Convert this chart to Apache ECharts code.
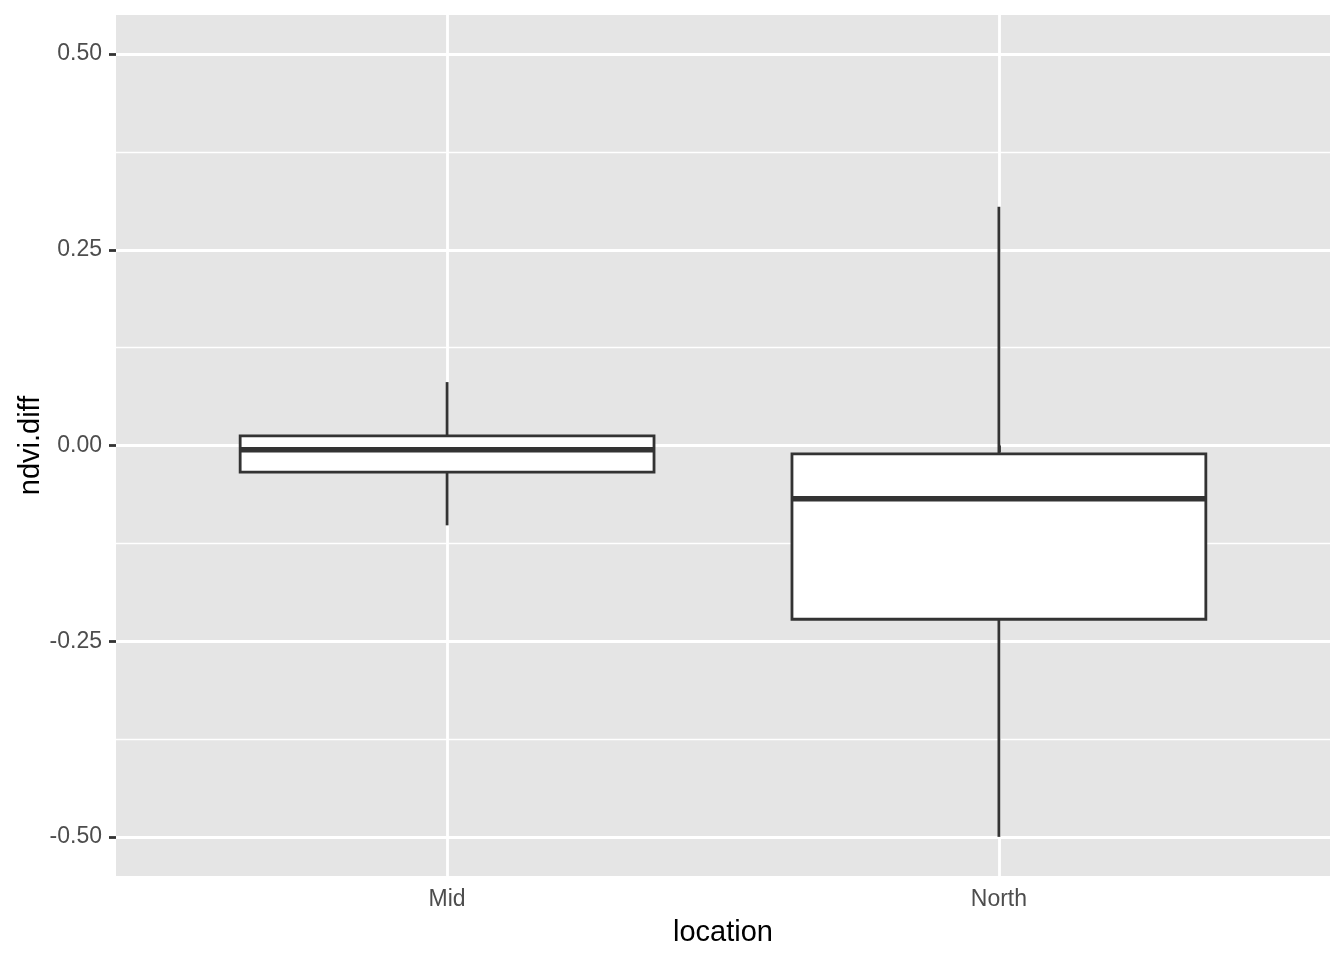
<!DOCTYPE html>
<html>
<head>
<meta charset="utf-8">
<script src="https://cdn.jsdelivr.net/npm/echarts@6/dist/echarts.min.js"></script>
<style>html,body{margin:0;padding:0;background:#fff;}#c{width:1344px;height:960px;}</style>
</head>
<body>
<div id="c"></div>
<script>
// ---- data ----
const categories = ['Mid', 'North'];
// [min (lower whisker), Q1, median, Q3, max (upper whisker)]
const boxMid   = [-0.102, -0.034, -0.0055, 0.0124, 0.081];
const boxNorth = [-0.500, -0.222, -0.068, -0.0106, 0.305];
const yTicks = [-0.5, -0.25, 0, 0.25, 0.5];
const yMinorTicks = [-0.375, -0.125, 0.125, 0.375];
const xPositions = [1, 2];

const boxes = [boxMid, boxNorth];
const seriesData = boxes.map((b, i) => [xPositions[i]].concat(b));

const chart = echarts.init(document.getElementById('c'), null, {renderer: 'canvas'});
const FONT = '"Liberation Sans", Arial, Helvetica, sans-serif';
const LW = 2.8;
const DARK = '#333333';

const option = {
  backgroundColor: '#ffffff',
  animation: false,
  grid: {
    left: 116, right: 14, top: 15, bottom: 84,
    show: true, backgroundColor: '#E5E5E5', borderWidth: 0,
    containLabel: false, outerBoundsMode: 'none'
  },
  xAxis: {
    type: 'value', min: 0.4, max: 2.6,
    axisLine: {show: false},
    axisTick: {show: true, customValues: xPositions, length: 7, lineStyle: {color: DARK, width: LW}},
    axisLabel: {
      show: true, customValues: xPositions, margin: 12,
      fontFamily: FONT, fontSize: 23, color: '#4D4D4D',
      formatter: v => categories[xPositions.indexOf(Math.round(v))] || ''
    },
    splitLine: {show: true, lineStyle: {color: '#ffffff', width: LW}},
    name: 'location', nameLocation: 'middle', nameGap: 42, nameMoveOverlap: false,
    nameTextStyle: {fontFamily: FONT, fontSize: 29, color: '#000000'}
  },
  yAxis: [{
    type: 'value', min: -0.55, max: 0.55,
    axisLine: {show: false},
    axisTick: {show: true, customValues: yTicks, length: 7, lineStyle: {color: DARK, width: LW}},
    axisLabel: {
      show: true, customValues: yTicks, margin: 14,
      fontFamily: FONT, fontSize: 23, color: '#4D4D4D',
      formatter: v => v.toFixed(2)
    },
    splitLine: {show: true, lineStyle: {color: '#ffffff', width: LW}},
    name: 'ndvi.diff', nameLocation: 'middle', nameGap: 71, nameRotate: 90, nameMoveOverlap: false,
    nameTextStyle: {fontFamily: FONT, fontSize: 29, color: '#000000'}
  }, {
    type: 'value', min: -0.55, max: 0.55, position: 'left',
    axisLine: {show: false},
    axisTick: {show: false, customValues: yMinorTicks},
    axisLabel: {show: false, customValues: yMinorTicks},
    splitLine: {show: true, lineStyle: {color: '#ffffff', width: LW / 2}}
  }],
  series: [{
    type: 'custom',
    xAxisIndex: 0, yAxisIndex: 0,
    data: seriesData,
    encode: {x: 0, y: [1, 2, 3, 4, 5]},
    renderItem: function (params, api) {
      const x = api.value(0);
      const lo = api.value(1), q1 = api.value(2), med = api.value(3), q3 = api.value(4), hi = api.value(5);
      const halfW = 0.375;
      const pL = api.coord([x - halfW, q3]);
      const pR = api.coord([x + halfW, q1]);
      const pc = api.coord([x, 0])[0];
      const yLo = api.coord([x, lo])[1];
      const yQ1 = api.coord([x, q1])[1];
      const yMed = api.coord([x, med])[1];
      const yQ3 = api.coord([x, q3])[1];
      const yHi = api.coord([x, hi])[1];
      const st = {stroke: DARK, lineWidth: LW, fill: null};
      return {
        type: 'group',
        children: [
          {type: 'line', shape: {x1: pc, y1: yQ3, x2: pc, y2: yHi}, style: st},
          {type: 'line', shape: {x1: pc, y1: yQ1, x2: pc, y2: yLo}, style: st},
          {type: 'rect', shape: {x: pL[0], y: pL[1], width: pR[0] - pL[0], height: pR[1] - pL[1]},
           style: {fill: '#ffffff', stroke: DARK, lineWidth: LW}},
          {type: 'line', shape: {x1: pL[0], y1: yMed, x2: pR[0], y2: yMed},
           style: {stroke: DARK, lineWidth: LW * 2}}
        ]
      };
    }
  }]
};
chart.setOption(option);
</script>
</body>
</html>
